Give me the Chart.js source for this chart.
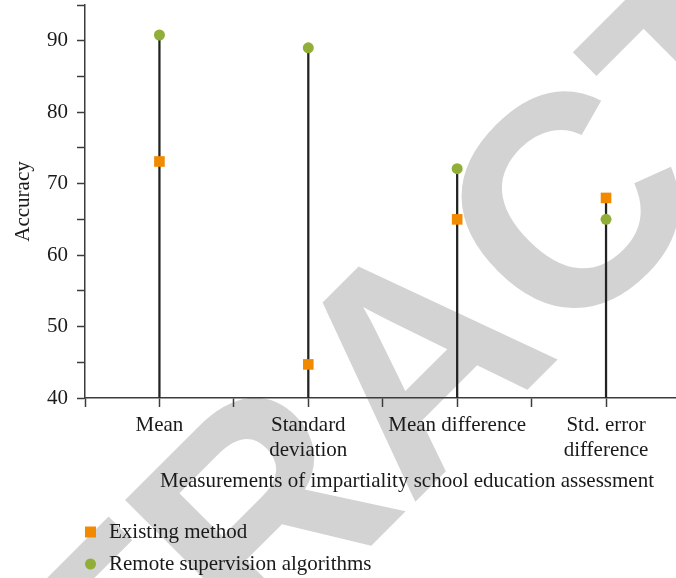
<!DOCTYPE html>
<html>
<head>
<meta charset="utf-8">
<script src="https://cdn.jsdelivr.net/npm/chart.js@4"></script>
<style>
  html, body { margin: 0; padding: 0; background: #fff; }
  #wrap { width: 676px; height: 578px; }
</style>
</head>
<body>
<div id="wrap"><canvas id="chartOne"></canvas></div>
<script>
let categories = [['Mean'], ['Standard', 'deviation'], ['Mean difference'], ['Std. error', 'difference']];
let existingMethod = [73.1, 44.7, 65.0, 68.0];
let remoteSupervision = [90.8, 89.0, 72.1, 65.0];
let seriesNames = ['Existing method', 'Remote supervision algorithms'];
let yTicks = [40, 50, 60, 70, 80, 90];
let xTitle = 'Measurements of impartiality school education assessment';
let yTitle = 'Accuracy';

const serif = "'Liberation Serif', 'DejaVu Serif', serif";
const orange = '#F28A00';
const green = '#90AE38';
const axisGrey = '#3c3c3c';

// stems go from the axis floor up to the higher of the two marks
let stems = categories.map((c, i) => ({ x: i, y: [40, Math.max(existingMethod[i], remoteSupervision[i])] }));

// white page + grey watermark behind everything
const backdrop = {
    id: 'backdrop',
    beforeDraw(chart) {
        const ctx = chart.ctx;
        ctx.save();
        ctx.fillStyle = '#fff';
        ctx.fillRect(0, 0, chart.width, chart.height);
        ctx.fillStyle = '#d3d3d3';
        ctx.font = "bold 300px 'Liberation Sans', Arial, sans-serif";
        ctx.translate(410, 507);   // left foot of the "A"
        ctx.rotate(-Math.PI / 4);
        ctx.textBaseline = 'alphabetic';
        ctx.textAlign = 'left';
        let pre = ctx.measureText('RETR').width;
        ctx.fillText('RETRACTED', -pre, 0);
        ctx.restore();
    }
};

// x title and the two-row legend at the bottom left
const bottomText = {
    id: 'bottomText',
    afterDraw(chart) {
        const ctx = chart.ctx;
        ctx.save();
        ctx.fillStyle = '#1a1a1a';
        ctx.font = '21px ' + serif;
        ctx.textBaseline = 'middle';
        ctx.textAlign = 'center';
        ctx.fillText(xTitle, 407, 481);
        ctx.textAlign = 'left';
        let rows = [532, 564];
        chart.data.datasets.slice(0, 2).forEach((ds, i) => {
            let y = rows[i];
            ctx.fillStyle = ds.backgroundColor;
            if (ds.pointStyle === 'rect') {
                ctx.fillRect(85, y - 5.5, 11, 11);
            } else {
                ctx.beginPath();
                ctx.arc(90.5, y, 5.5, 0, Math.PI * 2);
                ctx.fill();
            }
            ctx.fillStyle = '#1a1a1a';
            ctx.fillText(ds.label, 109, y);
        });
        ctx.restore();
    }
};

var ctx = document.getElementById('chartOne').getContext('2d');
var chartOne = new Chart(ctx, {
    data: {
        datasets: [{
            type: 'line',
            label: seriesNames[0],
            data: existingMethod.map((v, i) => ({ x: i, y: v })),
            showLine: false,
            pointStyle: 'rect',
            pointRadius: 7.5,
            backgroundColor: orange,
            borderColor: orange,
            borderWidth: 0,
            order: 1
        }, {
            type: 'line',
            label: seriesNames[1],
            data: remoteSupervision.map((v, i) => ({ x: i, y: v })),
            showLine: false,
            pointStyle: 'circle',
            pointRadius: 5.5,
            backgroundColor: green,
            borderColor: green,
            borderWidth: 0,
            order: 0
        }, {
            type: 'bar',
            label: 'stems',
            data: stems,
            backgroundColor: '#222',
            barThickness: 1.6,
            order: 5
        }]
    },
    options: {
        responsive: true,
        maintainAspectRatio: false,
        animation: false,
        layout: { autoPadding: false, padding: { top: 5, right: 0, left: 0, bottom: 0 } },
        plugins: {
            legend: { display: false },
            tooltip: { enabled: false }
        },
        scales: {
            x: {
                type: 'linear',
                offset: false,
                min: -0.5,
                max: 3.47,
                afterFit: s => { s.height = 180; s.paddingLeft = 0; s.paddingRight = 0; },
                border: { color: axisGrey, width: 1.5 },
                grid: { offset: false, drawOnChartArea: false, tickLength: 9, color: axisGrey, tickWidth: 1.5 },
                ticks: {
                    stepSize: 0.5,
                    includeBounds: false,
                    autoSkip: false,
                    maxRotation: 0,
                    padding: 6,
                    color: '#1a1a1a',
                    font: { family: serif, size: 21, lineHeight: 1.2 },
                    callback: v => Number.isInteger(v) ? categories[v] : ''
                }
            },
            y: {
                min: 40,
                max: 95,
                afterFit: s => { s.width = 85; s.paddingTop = 0; s.paddingBottom = 0; },
                border: { color: axisGrey, width: 1.5 },
                grid: { drawOnChartArea: false, tickLength: 8, color: axisGrey, tickWidth: 1.5 },
                ticks: {
                    stepSize: 5,
                    padding: 9,
                    color: '#1a1a1a',
                    font: { family: serif, size: 21 },
                    callback: v => yTicks.includes(v) ? v : ''
                },
                title: {
                    display: true,
                    text: yTitle,
                    color: '#1a1a1a',
                    padding: { top: 11, bottom: 0 },
                    font: { family: serif, size: 21 }
                }
            }
        }
    },
    plugins: [backdrop, bottomText]
});
</script>
</body>
</html>
